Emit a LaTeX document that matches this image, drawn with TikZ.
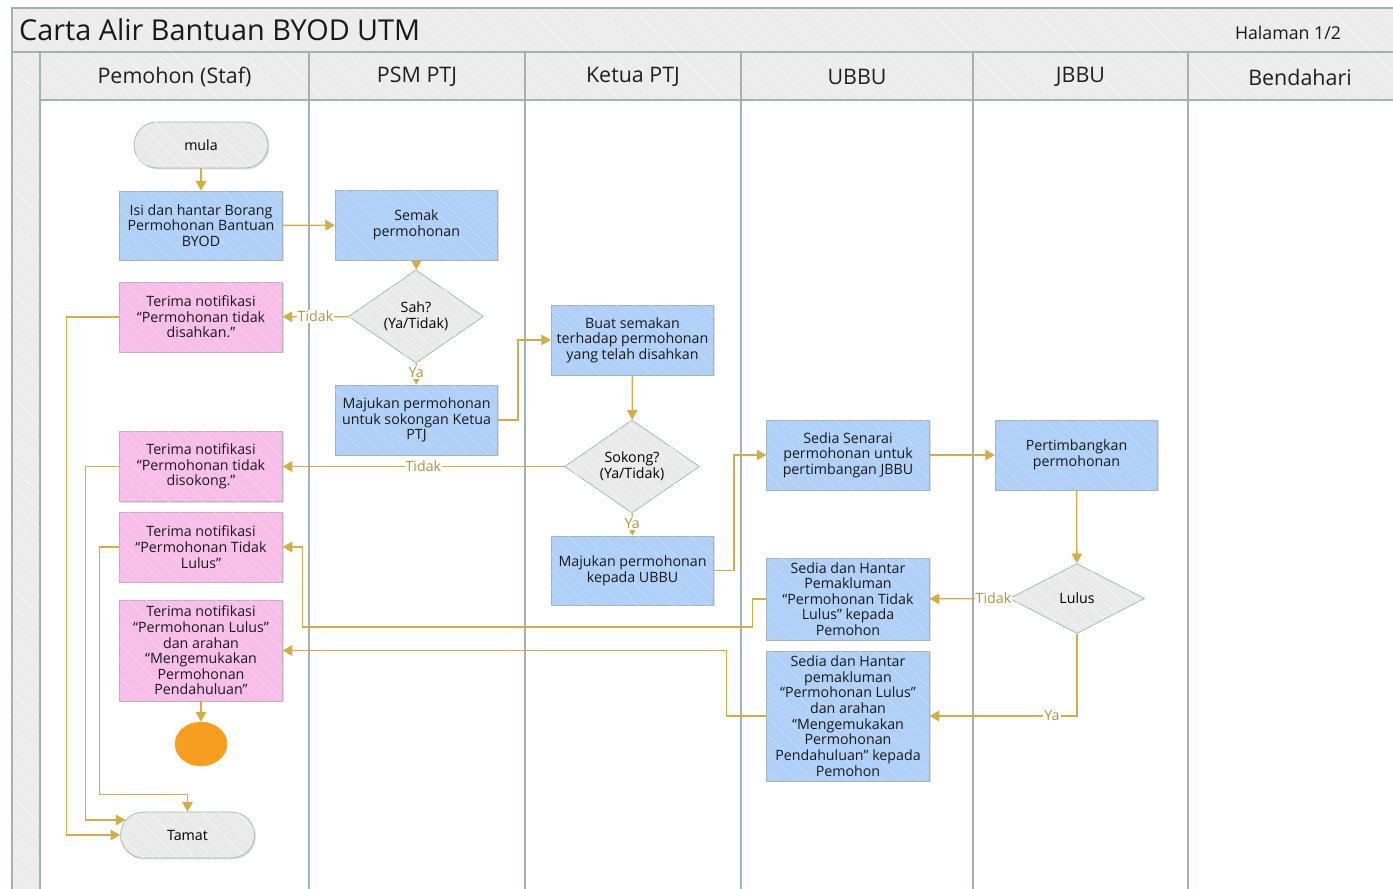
\documentclass[tikz,border=0pt]{standalone}
\usepackage{fontspec}
\setmainfont{Open Sans}
\usetikzlibrary{arrows.meta,shapes.geometric,shadows,patterns.meta,calc}

\definecolor{flowgold}{RGB}{208,175,72}
\definecolor{labelgold}{RGB}{180,148,58}
\definecolor{lanegrey}{RGB}{160,180,172}
\definecolor{headfill}{RGB}{236,236,236}
\definecolor{taskblue}{RGB}{176,208,248}
\definecolor{notepink}{RGB}{248,190,234}
\definecolor{termgrey}{RGB}{234,234,234}
\definecolor{dotorange}{RGB}{247,157,32}
\definecolor{boxedge}{RGB}{170,178,178}

\newcommand\flowtext{\fontsize{8.1}{8.9}\selectfont}
\newcommand\lanetext{\fontsize{12.2}{14}\selectfont}
\newcommand\titletext{\fontsize{16.4}{19}\selectfont}

\tikzset{
  hatch/.style={postaction={pattern={Lines[angle=-45,distance=7pt,line width=0.35pt]},
    pattern color=#1}},
  boxshadow/.style={drop shadow={shadow xshift=0.8pt,shadow yshift=-0.8pt,opacity=0.25}},
  box/.style={draw=boxedge,minimum width=3.25cm,minimum height=1.4cm,
    align=center,font=\flowtext,inner sep=1pt,text=black!90,boxshadow},
  task/.style={box,fill=taskblue,hatch=taskblue!70!white},
  note/.style={box,fill=notepink,draw=boxedge!80!pink,hatch=notepink!70!white},
  term/.style={draw=lanegrey,fill=termgrey,rounded corners=0.46cm,minimum width=2.68cm,
    minimum height=0.92cm,font=\flowtext,hatch=white!97!black,boxshadow},
  decide/.style={diamond,draw=lanegrey,fill=termgrey,minimum width=2.7cm,minimum height=1.4cm,
    inner sep=0pt,align=center,font=\flowtext,hatch=white!97!black},
  lanehead/.style={font=\lanetext,text=black!88},
  laneline/.style={draw=lanegrey,line width=1pt},
  flow/.style={draw=flowgold,line width=0.75pt,-{Triangle[length=5.5pt,width=6pt]}},
  lbl/.style={fill=white,text=labelgold,font=\flowtext,inner sep=0.6pt,
    text height=5.9pt,text depth=0.3pt}
}

\begin{document}
\begin{tikzpicture}[x=0.02cm,y=-0.02cm]
\useasboundingbox (0,0) rectangle (1393,889);
\clip (0,0) rectangle (1393,889);
\fill[white] (0,0) rectangle (1393,889);

% pool frame and lanes
\path[fill=headfill,hatch=white!97!black] (12,8) rectangle (1410,100);
\path[fill=headfill,hatch=white!97!black] (12,100) rectangle (40,900);
\draw[laneline] (1410,8) -- (12,8) -- (12,900);
\draw[laneline] (12,52) -- (1410,52);
\draw[laneline] (40,100) -- (1410,100);
\foreach \x in {40,309,525,741,973,1188}
  \draw[laneline] (\x,52) -- (\x,900);

\node[anchor=west,font=\titletext,text=black!90] (title) at (13,30) {Carta Alir Bantuan BYOD UTM};
\node[font=\fontsize{10.1}{12}\selectfont,text=black!90] (page) at (1288,33) {Halaman 1/2};

\foreach \xc/\lane/\nm in {174.5/Pemohon (Staf)/h1,417/PSM PTJ/h2,633/Ketua PTJ/h3,
    857/UBBU/h4,1080.5/JBBU/h5,1300/Bendahari/h6}
  \node[lanehead] (\nm) at (\xc,77) {\lane};

% steps
\node[term] (mula) at (201,145) {mula};
\node[task,minimum height=1.38cm] (isi) at (201,225.5) {Isi dan hantar Borang\\Permohonan Bantuan\\BYOD};
\node[task] (semak) at (416.5,225) {Semak\\permohonan};
\node[decide] (sah) at (416,316.5) {Sah?\\(Ya/Tidak)};
\node[note] (notif1) at (201,317) {Terima notifikasi\\“Permohonan tidak\\disahkan.”};
\node[task] (maju1) at (416.5,420) {Majukan permohonan\\untuk sokongan Ketua\\PTJ};
\node[task] (buat) at (632.5,340) {Buat semakan\\terhadap permohonan\\yang telah disahkan};
\node[decide] (sokong) at (632,466.5) {Sokong?\\(Ya/Tidak)};
\node[note] (notif2) at (201,466.5) {Terima notifikasi\\“Permohonan tidak\\disokong.”};
\node[note] (notif3) at (201,547) {Terima notifikasi\\“Permohonan Tidak\\Lulus”};
\node[note,minimum height=2.02cm] (notif4) at (201,650.5) {Terima notifikasi\\“Permohonan Lulus”\\dan arahan\\“Mengemukakan\\Permohonan\\Pendahuluan”};
\node[ellipse,fill=dotorange,draw=dotorange!85!white,minimum width=1.04cm,minimum height=0.88cm] (dot) at (201,744) {};
\node[term] (tamat) at (187.5,835) {Tamat};
\node[task,minimum height=1.38cm] (maju2) at (632.5,570.5) {Majukan permohonan\\kepada UBBU};
\node[task] (sedia1) at (848,455) {Sedia Senarai\\permohonan untuk\\pertimbangan JBBU};
\node[task] (pertim) at (1076.5,455) {Pertimbangkan\\permohonan};
\node[decide] (lulus) at (1077,598.5) {Lulus};
\node[task,minimum height=1.64cm] (sedia2) at (848,599) {Sedia dan Hantar\\Pemakluman\\“Permohonan Tidak\\Lulus” kepada\\Pemohon};
\node[task,minimum height=2.6cm] (sedia3) at (848,716) {Sedia dan Hantar\\pemakluman\\“Permohonan Lulus”\\dan arahan\\“Mengemukakan\\Permohonan\\Pendahuluan” kepada\\Pemohon};

\coordinate (tamatup) at ($(tamat.center)+(-61.9,-15)$);

% flows
\draw[flow] (mula) -- (isi);
\draw[flow] (isi) -- (semak);
\draw[flow] (semak) -- (sah);
\draw[flow] (sah) -- node[lbl]{Tidak} (notif1);
\draw[flow] (sah) -- node[lbl,pos=0.45]{Ya} (maju1);
\draw[flow] (maju1.east) -- ++(20,0) |- (buat.west);
\draw[flow] (buat) -- (sokong);
\draw[flow] (sokong) -- node[lbl]{Tidak} (notif2);
\draw[flow] (sokong) -- node[lbl,pos=0.45]{Ya} (maju2);
\draw[flow] (maju2.east) -- ++(20,0) |- (sedia1.west);
\draw[flow] (sedia1) -- (pertim);
\draw[flow] (pertim) -- (lulus);
\draw[flow] (lulus) -- node[lbl,pos=0.2]{Tidak} (sedia2);
\draw[flow] (lulus) |- node[lbl,pos=0.585]{Ya} (sedia3);
\draw[flow] (sedia2.west) -- ++(-14,0) -- ++(0,28) -| ($(notif3.east)+(20,0)$) -- (notif3.east);
\draw[flow] (sedia3.west) -- ++(-40,0) |- (notif4.east);
\draw[flow] (notif4) -- (dot);
\draw[flow] (notif1.west) -- ++(-53,0) |- (tamat.west);
\draw[flow] (notif2.west) -- ++(-34,0) |- (tamatup);
\draw[flow] (notif3.west) -- ++(-20,0) |- ($(tamat.north)+(0,-17)$) -- (tamat.north);
\end{tikzpicture}
\end{document}
